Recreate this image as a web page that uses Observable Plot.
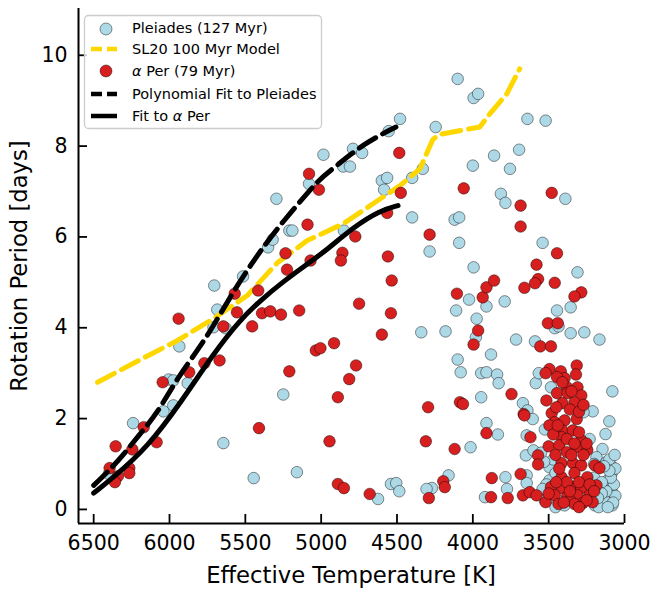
<!DOCTYPE html>
<html><head><meta charset="utf-8">
<script src="https://cdn.jsdelivr.net/npm/d3@7"></script>
<script src="https://cdn.jsdelivr.net/npm/@observablehq/plot@0.6"></script>
<style>
body{margin:0;background:#fff;overflow:hidden;}
#wrap{position:relative;width:651px;height:591px;}
#wrap svg{display:block;}
#overlay{position:absolute;left:0;top:0;pointer-events:none;}
</style></head><body><div id="wrap"></div>
<script>
// Pleiades (127 Myr): effective temperature [K], rotation period [days]
const pleiadesTeff = [6400,6240,6040,5975,6005,5975,5880,5935,5710,5630,5685,5705,5515,5350,5320,5210,5190,5295,5080,4985,
 5645,5445,5250,5160,4855,4810,4790,4730,4850,4600,4565,4585,4555,4480,4400,4330,4400,4245,4100,3995,
 3965,4120,4090,4090,4285,4000,3860,3695,3755,3815,3785,3640,3520,3390,3540,3995,3310,4340,4180,4025,
 4110,3910,3790,3975,3980,3715,4100,3880,4080,3945,3910,3840,3830,3945,3910,3835,4015,4160,3785,3775,
 3920,4270,4540,4505,4485,4625,4305,3650,3670,3640,3605,3645,3590,3585,3565,3445,3355,3460,3435,3355,
 3265,3165,3485,3080,3210,3270,3100,3125,3525,3145,3085,3110,3080,3080,3145,3645,3645,3495,3495,3480,
 3505,3185,3120,3085,3165,3130,3395,3295,3195,3455,3170,3230,3470,3455,3200,3230,3600,
 3060,3070,3090,3060,3100,3120,3075,3150,3100,3135,3065,3150,3110,3175,3200,3530,3515,3540,3525,3550];
const pleiadesPeriod = [0.78,1.90,2.16,2.29,2.86,2.84,2.78,3.59,4.01,3.99,4.40,4.93,5.13,5.77,5.94,6.14,6.14,6.84,7.17,7.81,
 1.46,0.69,2.53,0.82,7.55,7.55,7.94,7.85,6.14,7.24,7.30,7.04,8.33,8.60,7.30,7.50,6.43,8.42,9.48,9.06,
 9.15,6.38,6.43,5.87,5.68,7.57,7.79,7.92,7.50,6.95,6.75,8.60,8.56,6.84,5.87,5.33,5.22,3.90,3.92,4.62,
 4.38,4.47,4.58,4.20,3.79,3.74,3.30,3.41,3.02,3.00,3.02,2.97,2.78,2.47,1.90,1.65,1.37,0.75,0.71,0.45,
 0.27,0.47,0.56,0.58,0.40,0.23,0.45,1.19,2.34,2.18,1.99,1.63,3.70,2.78,3.00,4.38,4.45,3.99,4.03,3.88,
 3.90,3.74,2.69,2.60,2.16,2.14,1.94,1.66,1.76,1.33,0.95,0.64,0.36,0.09,0.25,0.75,0.58,0.93,0.64,0.25,
 0.36,1.15,1.04,0.80,0.47,0.20,0.09,0.20,0.09,0.05,0.05,1.55,1.10,0.80,0.70,0.45,1.30,
 0.30,0.55,0.70,0.90,1.10,0.40,0.15,0.60,0.85,0.95,1.20,0.35,0.05,0.25,1.00,1.05,0.55,0.45,0.20,1.25];

// alpha Per (79 Myr)
const aperTeff = [6355,6245,6170,6085,6395,6265,6265,6340,6360,6045,5870,5770,5670,5940,5645,5455,5555,5570,5415,5390,
 5335,5265,5145,5035,5005,5210,5410,5235,5225,5070,5090,5080,5015,4860,4870,4775,4565,4475,4485,4560,
 4535,4750,4540,4600,4285,4060,4915,4770,4815,4890,4945,4890,4850,4680,4295,4310,4290,4195,4185,4085,
 4065,4120,3910,3965,3995,4105,3935,3910,3860,3875,3880,3770,3745,3665,3620,3685,3570,3570,3670,3625,
 3580,3685,3685,3480,3580,3445,3570,3590,3660,3460,3285,3330,3505,3440,3555,3485,3495,3420,3315,3320,
 3395,3310,3380,3445,3520,3410,3445,3375,3285,3515,3410,3330,3660,3480,3460,3395,3315,3495,3410,3340,
 3415,3285,3500,3430,3380,3315,3245,3415,3340,3285,3195,3165,3330,3415,3245,3185,3340,3485,3410,3285,
 3460,3380,3310,3230,3520,3360,3275,3210,3330,3435,
 3450,3360,3300,3470,3380,3300,3250,3455,3350,3270,3430,3380,3300,3230,3450,3360,3250,3400,3500,3300,
 3200,3350,3270,3330,3440];
const aperPeriod = [1.39,1.32,1.81,1.48,0.91,0.91,0.80,0.73,0.60,2.80,3.02,3.22,3.28,4.20,4.03,4.03,4.34,4.75,4.82,4.32,
 4.36,4.29,4.38,3.50,3.55,3.04,1.79,5.64,5.28,5.48,6.27,7.39,7.04,5.65,5.48,6.01,6.53,6.97,7.85,5.57,
 5.04,4.53,4.32,3.85,6.05,7.07,3.66,3.17,2.87,2.47,1.50,0.56,0.47,0.34,2.25,1.50,0.25,0.62,0.49,2.36,
 2.32,1.33,1.68,3.94,3.63,4.75,4.67,4.89,5.04,0.69,0.27,0.25,2.54,2.10,1.59,0.78,1.19,0.99,0.31,0.38,
 0.31,6.69,6.23,6.97,5.39,5.64,5.07,4.98,4.88,4.99,4.78,4.69,4.10,4.10,3.59,3.59,3.09,3.04,3.17,2.97,
 2.89,2.69,2.69,2.91,3.00,2.80,2.56,2.56,2.51,2.40,2.34,2.36,2.07,2.12,1.92,1.96,1.99,1.85,1.74,1.74,
 1.59,1.52,1.39,1.41,1.26,1.37,1.31,1.02,1.02,0.97,0.97,0.91,0.80,0.71,0.71,0.53,0.49,0.49,0.47,0.47,
 0.31,0.27,0.31,0.31,0.16,0.20,0.14,0.16,0.12,0.12,
 2.25,2.20,2.15,1.65,1.55,1.70,1.45,1.20,1.20,1.20,0.90,0.60,0.60,0.55,0.60,0.40,0.20,0.15,0.35,0.05,
 0.40,2.60,2.30,1.45,1.85];

// SL20 100 Myr model
const sl20Teff = [6474,6237,5947,5711,5487,5289,5092,4855,4658,4480,4349,4263,4217,3954,3888,3776,3691];
const sl20Period = [2.80,3.22,3.72,4.20,4.71,5.43,5.92,6.29,6.73,7.13,7.50,8.15,8.26,8.42,8.71,9.15,9.70];

// Polynomial fit to Pleiades
const polyTeff = [6500,6342,6191,6079,5947,5750,5579,5355,5204,5007,4921,4724,4507];
const polyPeriod = [0.53,1.04,1.68,2.12,2.91,3.79,4.82,5.92,6.52,7.30,7.50,8.05,8.42];

// Fit to alpha Per
const aperFitTeff = [6500,6368,6145,5928,5711,5533,5401,5250,5072,4961,4789,4612,4493];
const aperFitPeriod = [0.36,0.71,1.37,2.34,3.43,4.18,4.60,5.02,5.45,5.72,6.21,6.58,6.69];

const xTicks = [6500,6000,5500,5000,4500,4000,3500,3000];
const yTicks = [0,2,4,6,8,10];
const xDomain = [6600,3000];
const yDomain = [-0.31,11.03];

const xLabel = "Effective Temperature [K]";
const yLabel = "Rotation Period [days]";
const legendItems = ["Pleiades (127 Myr)","SL20 100 Myr Model","Per (79 Myr)","Polynomial Fit to Pleiades","Fit to "];

const zip = (T,P) => T.map((t,i)=>({t, p:P[i]}));
const pleiades = zip(pleiadesTeff, pleiadesPeriod);
const aper = zip(aperTeff, aperPeriod);
const sl20 = zip(sl20Teff, sl20Period);
const poly = zip(polyTeff, polyPeriod);
const aperFit = zip(aperFitTeff, aperFitPeriod);

const BLUE = "#add8e6", RED = "#d71f1f", GOLD = "#ffd700";
const dotStyle = {x:"t", y:"p", r:5.8, stroke:"#000", strokeOpacity:0.55, strokeWidth:0.8};

const chart = Plot.plot({
  width:651, height:591,
  marginLeft:78, marginRight:27, marginTop:8, marginBottom:68,
  x:{domain:xDomain},
  y:{domain:yDomain},
  style:{fontFamily:"DejaVu Sans", background:"white", color:"black", overflow:"visible"},
  marks:[
    Plot.dot(pleiades, {...dotStyle, fill:BLUE}),
    Plot.line(sl20, {x:"t", y:"p", stroke:GOLD, strokeWidth:5, strokeDasharray:"19,8"}),
    Plot.dot(aper, {...dotStyle, fill:RED}),
    Plot.line(poly, {x:"t", y:"p", stroke:"black", strokeWidth:5, strokeDasharray:"19,8", curve:"basis"}),
    Plot.line(aperFit, {x:"t", y:"p", stroke:"black", strokeWidth:5, curve:"basis"}),
    Plot.ruleX([xDomain[0]], {stroke:"black", strokeWidth:2}),
    Plot.ruleY([yDomain[0]], {stroke:"black", strokeWidth:2}),
    Plot.axisX({ticks:xTicks, tickSize:9, dy:-9, text:null, label:null, strokeWidth:1.8}),
    Plot.axisX({ticks:xTicks, tickSize:0, tickPadding:12, fontSize:20.5, label:null, tickFormat:d=>String(d)}),
    Plot.axisY({ticks:yTicks, tickSize:9, dx:9, text:null, label:null, strokeWidth:1.8}),
    Plot.axisY({ticks:yTicks, tickSize:0, tickPadding:11, fontSize:20.5, label:null, tickFormat:d=>String(d)})
  ]
});
const wrap = document.getElementById("wrap");
wrap.appendChild(chart);

// overlay: axis labels and legend
const ov = d3.select(wrap).append("svg").attr("id","overlay")
  .attr("width",651).attr("height",591)
  .style("font-family","DejaVu Sans");
ov.append("text").attr("x",351).attr("y",583).attr("text-anchor","middle")
  .attr("font-size",22.7).text(xLabel);
ov.append("text").attr("transform","translate(27,266) rotate(-90)").attr("text-anchor","middle")
  .attr("font-size",22.7).text(yLabel);

const lg = ov.append("g");
lg.append("rect").attr("x",84.5).attr("y",15.5).attr("width",237).attr("height",113).attr("rx",4)
  .attr("fill","white").attr("fill-opacity",0.8).attr("stroke","#cccccc").attr("stroke-width",1.3);
const base = [33.3,54.3,76,99.3,120.7];
const mid = [29,49,71,94,116];
lg.append("circle").attr("cx",106).attr("cy",mid[0]).attr("r",6).attr("fill",BLUE).attr("stroke","#000").attr("stroke-opacity",0.55).attr("stroke-width",0.8);
lg.append("line").attr("x1",91).attr("x2",117).attr("y1",mid[1]).attr("y2",mid[1]).attr("stroke",GOLD).attr("stroke-width",4.5).attr("stroke-dasharray","11,5");
lg.append("circle").attr("cx",106).attr("cy",mid[2]).attr("r",6).attr("fill",RED).attr("stroke","#000").attr("stroke-opacity",0.55).attr("stroke-width",0.8);
lg.append("line").attr("x1",91).attr("x2",117).attr("y1",mid[3]).attr("y2",mid[3]).attr("stroke","black").attr("stroke-width",4.5).attr("stroke-dasharray","11,5");
lg.append("line").attr("x1",91).attr("x2",117).attr("y1",mid[4]).attr("y2",mid[4]).attr("stroke","black").attr("stroke-width",4.5);
legendItems.forEach((s,i)=>{
  const t = lg.append("text").attr("x",132).attr("y",base[i]).attr("font-size",14.5);
  if (i===2){ t.append("tspan").attr("font-style","italic").text("α"); t.append("tspan").text(" "+s); }
  else if (i===4){ t.append("tspan").text(s); t.append("tspan").attr("font-style","italic").text("α"); t.append("tspan").text(" Per"); }
  else t.text(s);
});
</script></body></html>
